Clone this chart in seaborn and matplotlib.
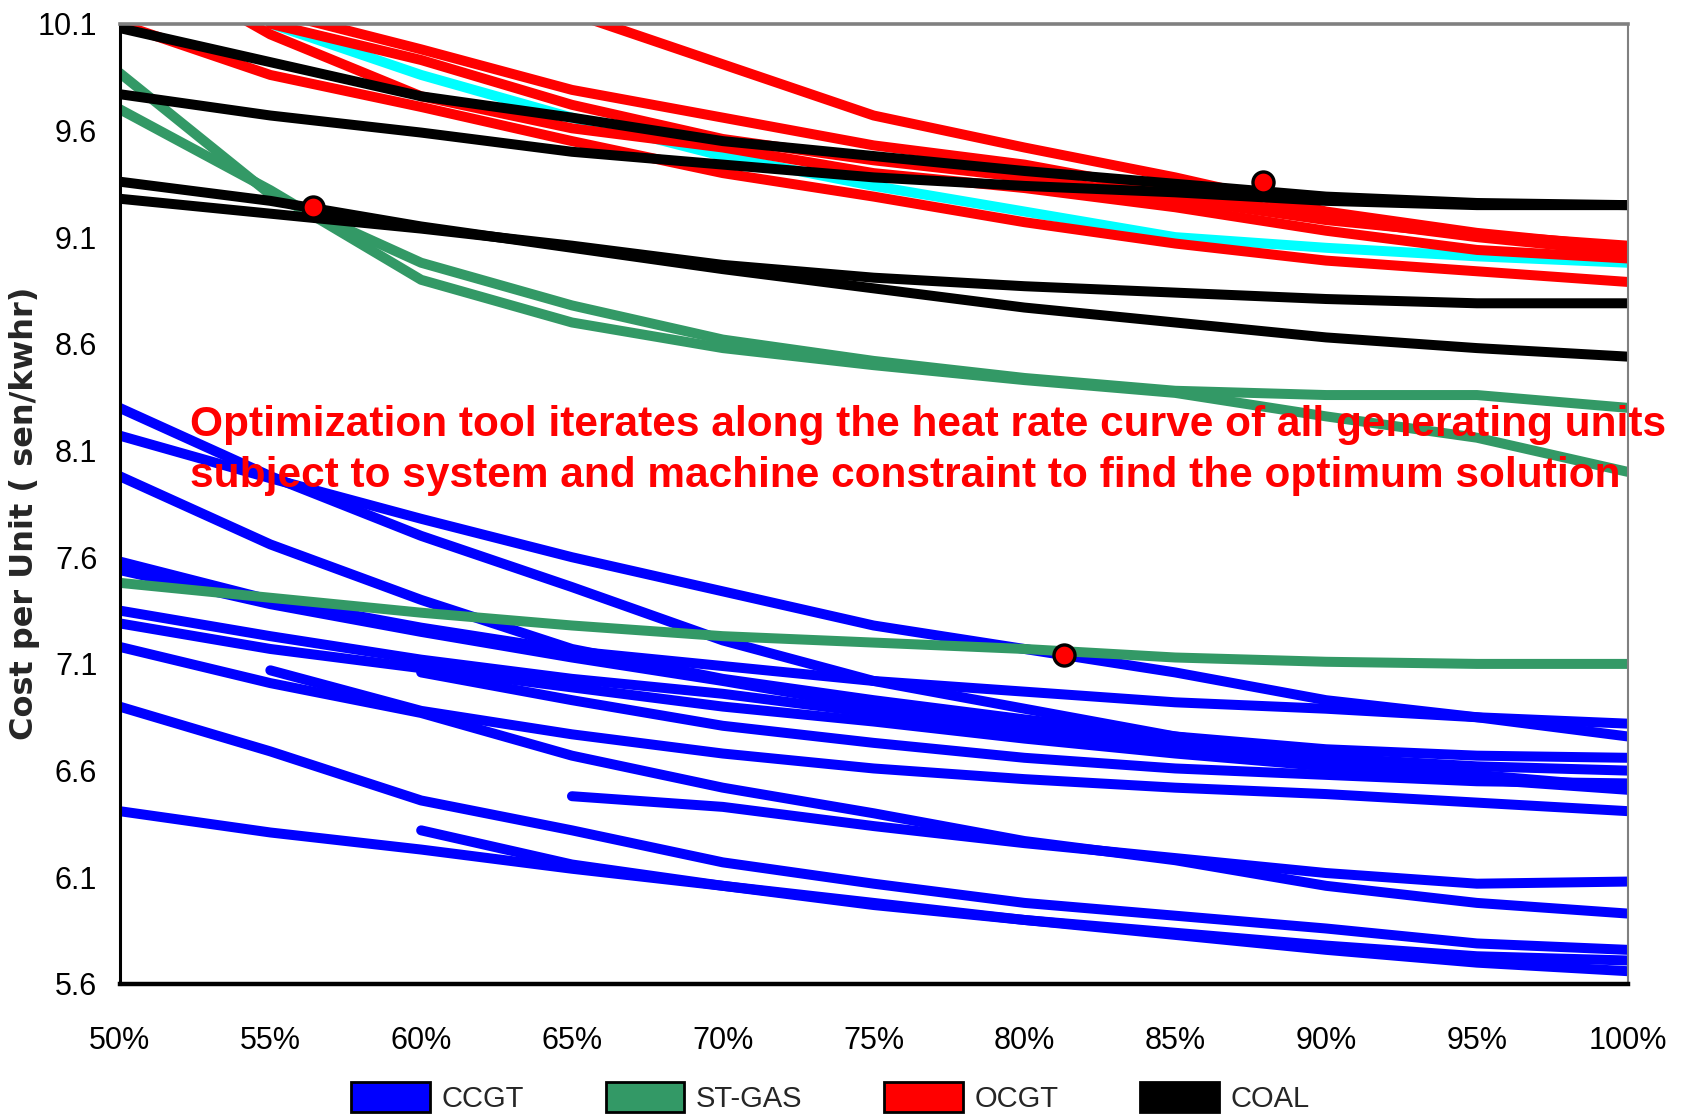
import pandas as pd
import matplotlib.pyplot as plt
import matplotlib.patches as mpatches
import seaborn as sns

plt.switch_backend('Agg')

# eixos
LOAD = [50, 55, 60, 65, 70, 75, 80, 85, 90, 95, 100]
X_LABELS = ['50%', '55%', '60%', '65%', '70%', '75%', '80%', '85%', '90%', '95%', '100%']
Y_TICKS = [5.6, 6.1, 6.6, 7.1, 7.6, 8.1, 8.6, 9.1, 9.6, 10.1]

# CCGT (azul)
ccgt_1 = [8.30, 7.98, 7.70, 7.46, 7.21, 7.02, 6.89, 6.76, 6.66, 6.58, 6.52]
ccgt_2 = [8.17, 7.97, 7.78, 7.60, 7.44, 7.28, 7.17, 7.06, 6.93, 6.85, 6.76]
ccgt_3 = [7.98, 7.66, 7.40, 7.17, 7.03, 6.93, 6.84, 6.76, 6.70, 6.67, 6.66]
ccgt_4 = [7.58, 7.40, 7.27, 7.16, 7.09, 7.02, 6.97, 6.92, 6.89, 6.85, 6.82]
ccgt_5 = [7.54, 7.38, 7.25, 7.13, 7.02, 6.90, 6.80, 6.72, 6.66, 6.62, 6.60]
ccgt_6 = [7.35, 7.23, 7.12, 7.03, 6.96, 6.87, 6.78, 6.70, 6.62, 6.56, 6.53]
ccgt_7 = [7.29, 7.17, 7.08, 6.99, 6.90, 6.83, 6.75, 6.68, 6.62, 6.56, 6.51]
ccgt_8 = [7.18, 7.01, 6.87, 6.67, 6.52, 6.40, 6.27, 6.18, 6.06, 5.98, 5.93]
ccgt_9 = [None, 7.07, 6.88, 6.77, 6.68, 6.61, 6.56, 6.52, 6.49, 6.45, 6.41]
ccgt_10 = [None, None, 7.06, 6.93, 6.81, 6.73, 6.66, 6.61, 6.58, 6.55, 6.54]
ccgt_11 = [6.90, 6.69, 6.46, 6.32, 6.17, 6.07, 5.98, 5.92, 5.86, 5.79, 5.76]
ccgt_12 = [None, None, None, 6.48, 6.43, 6.34, 6.26, 6.19, 6.12, 6.07, 6.08]
ccgt_13 = [6.41, 6.31, 6.23, 6.14, 6.06, 5.97, 5.90, 5.84, 5.78, 5.73, 5.71]
ccgt_14 = [None, None, 6.32, 6.16, 6.06, 5.98, 5.90, 5.83, 5.76, 5.70, 5.66]

# ST-GAS (verde)
stgas_1 = [9.87, 9.30, 8.98, 8.78, 8.62, 8.52, 8.44, 8.38, 8.36, 8.36, 8.30]
stgas_2 = [9.70, 9.32, 8.90, 8.70, 8.58, 8.50, 8.43, 8.37, 8.26, 8.16, 8.00]
stgas_3 = [7.48, 7.41, 7.34, 7.28, 7.23, 7.20, 7.17, 7.13, 7.11, 7.10, 7.10]

# OCGT (vermelho) + a curva ciano
ocgt_cyan = [None, 10.10, 9.86, 9.66, 9.48, 9.34, 9.22, 9.10, 9.05, 9.01, 8.98]
ocgt_1 = [10.10, 9.86, 9.71, 9.55, 9.40, 9.29, 9.17, 9.07, 8.99, 8.94, 8.89]
ocgt_2 = [None, None, None, 10.15, 9.91, 9.67, 9.52, 9.38, 9.22, 9.12, 9.05]
ocgt_3 = [None, 10.16, 9.98, 9.79, 9.66, 9.53, 9.44, 9.31, 9.19, 9.10, 9.03]
ocgt_4 = [None, 10.10, 9.93, 9.72, 9.56, 9.46, 9.38, 9.28, 9.18, 9.11, 9.06]
ocgt_5 = [10.45, 10.05, 9.76, 9.61, 9.52, 9.40, 9.33, 9.24, 9.13, 9.04, 9.00]

# COAL (preto)
coal_1 = [10.08, 9.92, 9.76, 9.66, 9.55, 9.48, 9.41, 9.35, 9.29, 9.26, 9.25]
coal_2 = [9.77, 9.67, 9.59, 9.50, 9.44, 9.38, 9.34, 9.31, 9.27, 9.25, 9.25]
coal_3 = [9.36, 9.27, 9.15, 9.05, 8.95, 8.86, 8.77, 8.70, 8.63, 8.58, 8.54]
coal_4 = [9.28, 9.21, 9.14, 9.06, 8.97, 8.91, 8.87, 8.84, 8.81, 8.79, 8.79]

# pontos de operacao (bolinhas vermelhas)
dot_x = [56.4, 81.3, 87.9]
dot_y = [9.24, 7.14, 9.36]

COLORS = {'CCGT': '#0000FF', 'ST-GAS': '#339966', 'OCGT': '#FF0000',
          'OCGT-c': '#00FFFF', 'COAL': '#000000'}

# ordem de desenho: azul, verde, ciano, vermelho, preto
curves = [
    ('CCGT', 'ccgt_1', ccgt_1), ('CCGT', 'ccgt_2', ccgt_2), ('CCGT', 'ccgt_3', ccgt_3),
    ('CCGT', 'ccgt_4', ccgt_4), ('CCGT', 'ccgt_5', ccgt_5), ('CCGT', 'ccgt_6', ccgt_6),
    ('CCGT', 'ccgt_7', ccgt_7), ('CCGT', 'ccgt_8', ccgt_8), ('CCGT', 'ccgt_9', ccgt_9),
    ('CCGT', 'ccgt_10', ccgt_10), ('CCGT', 'ccgt_11', ccgt_11), ('CCGT', 'ccgt_12', ccgt_12),
    ('CCGT', 'ccgt_13', ccgt_13), ('CCGT', 'ccgt_14', ccgt_14),
    ('ST-GAS', 'stgas_1', stgas_1), ('ST-GAS', 'stgas_2', stgas_2), ('ST-GAS', 'stgas_3', stgas_3),
    ('OCGT-c', 'ocgt_cyan', ocgt_cyan),
    ('OCGT', 'ocgt_1', ocgt_1), ('OCGT', 'ocgt_2', ocgt_2), ('OCGT', 'ocgt_3', ocgt_3),
    ('OCGT', 'ocgt_4', ocgt_4), ('OCGT', 'ocgt_5', ocgt_5),
    ('COAL', 'coal_1', coal_1), ('COAL', 'coal_2', coal_2), ('COAL', 'coal_3', coal_3),
    ('COAL', 'coal_4', coal_4),
]

rows = []
for kind, name, vals in curves:
    for x, v in zip(LOAD, vals):
        if v is not None:
            rows.append({'load': x, 'cost': v, 'unit': name, 'kind': kind})
df = pd.DataFrame(rows)

order = [c[1] for c in curves]
palette = {c[1]: COLORS[c[0]] for c in curves}

sns.set_style('white')
plt.rcParams['font.family'] = ['Liberation Sans', 'DejaVu Sans']

fig, ax = plt.subplots(figsize=(16.88, 11.15), dpi=100)
fig.subplots_adjust(left=0.0708, right=0.9643, top=0.9787, bottom=0.1175)

sns.lineplot(data=df, x='load', y='cost', hue='unit', hue_order=order,
             palette=palette, estimator=None, sort=False, linewidth=7.2,
             legend=False, ax=ax)

sns.scatterplot(x=dot_x, y=dot_y, s=230, color='#FF0000', edgecolor='black',
                linewidth=2.4, zorder=6, ax=ax)

ax.set_xlim(50, 100)
ax.set_ylim(5.6, 10.1)
ax.set_xticks(LOAD)
ax.set_xticklabels(X_LABELS, fontsize=22)
ax.set_yticks(Y_TICKS)
ax.set_yticklabels([f'{t:.1f}' for t in Y_TICKS], fontsize=22)
ax.tick_params(axis='x', length=11, width=2, pad=19, colors='black')
ax.tick_params(axis='y', length=8, width=2.5, pad=8, colors='black')
ax.set_xlabel('')
ax.set_ylabel('Cost per Unit ( sen/kwhr)', fontsize=23, fontweight='bold',
              family='DejaVu Sans')
ax.yaxis.label.set_verticalalignment('center')
ax.yaxis.set_label_coords(-0.0633, 0.49)

for side in ['left', 'bottom']:
    ax.spines[side].set_color('black')
ax.spines['left'].set_linewidth(2.2)
ax.spines['bottom'].set_linewidth(3.2)
ax.spines['top'].set_color('#808080')
ax.spines['top'].set_linewidth(2.6)
ax.spines['right'].set_color('#808080')
ax.spines['right'].set_linewidth(1.5)

# texto em vermelho sobre o grafico
ax.text(52.35, 8.168, 'Optimization tool iterates along the heat rate curve of all generating units',
        color='#FF0000', fontsize=30.5, fontweight='bold', family='Liberation Sans',
        va='baseline', ha='left', zorder=7)
ax.text(52.35, 7.929, 'subject to system and machine constraint to find the optimum solution',
        color='#FF0000', fontsize=30.5, fontweight='bold', family='Liberation Sans',
        va='baseline', ha='left', zorder=7)

# legenda
handles = [mpatches.Patch(facecolor=COLORS[k], edgecolor='black', linewidth=2)
           for k in ['CCGT', 'ST-GAS', 'OCGT', 'COAL']]
fig.legend(handles, ['CCGT', 'ST-GAS', 'OCGT', 'COAL'], loc='center',
           bbox_to_anchor=(0.492, 0.016), ncol=4, frameon=False,
           handlelength=2.7, handleheight=1.25, handletextpad=0.4,
           columnspacing=2.8, fontsize=21)

plt.savefig('out.png', dpi=100)
plt.close()
